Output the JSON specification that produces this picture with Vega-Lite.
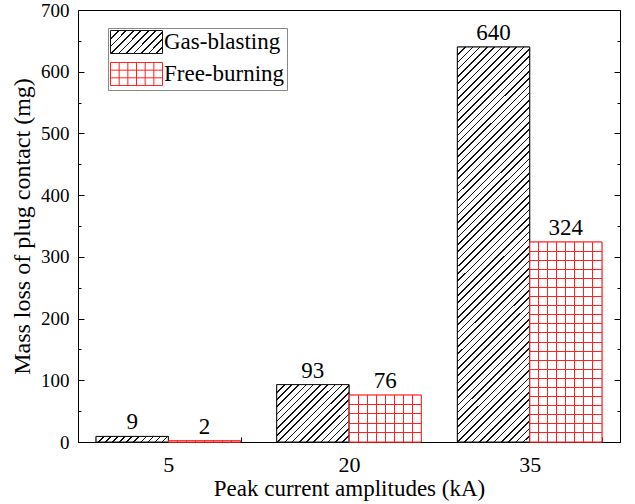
{
  "$schema": "https://vega.github.io/schema/vega-lite/v6.json",
  "width": 542,
  "height": 432,
  "padding": {"left": 10, "top": 1, "right": 12, "bottom": 4},
  "background": "#ffffff",
  "data": {"values": [
    {"amp": "5", "series": "Gas-blasting", "v": 9},
    {"amp": "5", "series": "Free-burning", "v": 2},
    {"amp": "20", "series": "Gas-blasting", "v": 93},
    {"amp": "20", "series": "Free-burning", "v": 76},
    {"amp": "35", "series": "Gas-blasting", "v": 640},
    {"amp": "35", "series": "Free-burning", "v": 324}
  ]},
  "config": {
    "view": {"stroke": "#000", "strokeWidth": 1},
    "font": "Liberation Serif",
    "axis": {
      "labelFont": "Liberation Serif", "labelFontSize": 19, "labelColor": "#000",
      "titleFont": "Liberation Serif", "titleFontSize": 23, "titleFontWeight": "normal", "titleColor": "#000",
      "domainColor": "#000", "tickColor": "#000", "grid": false
    },
    "legend": {
      "labelFont": "Liberation Serif", "labelFontSize": 23, "labelColor": "#000"
    }
  },
  "encoding": {
    "x": {"field": "amp", "type": "ordinal", "sort": ["5", "20", "35"],
      "scale": {"paddingInner": 0.2, "paddingOuter": 0.1}, "axis": null},
    "xOffset": {"field": "series", "type": "nominal", "sort": ["Gas-blasting", "Free-burning"]},
    "y": {"field": "v", "type": "quantitative", "scale": {"domain": [0, 700], "nice": false}, "axis": null}
  },
  "resolve": {"axis": {"y": "independent", "x": "independent"}},
  "layer": [
    {
      "mark": {"type": "bar", "strokeWidth": 1,
        "fill": {"expr": "(datum.series || datum.value) === 'Gas-blasting' ? {gradient: 'linear', x1: 0, y1: 0, x2: 1.2064, y2: 0.5313, stops: [{offset: 0, color: '#fff'}, {offset: 0.1, color: '#fff'}, {offset: 0.1, color: '#111'}, {offset: 0.1214, color: '#111'}, {offset: 0.1214, color: '#fff'}, {offset: 0.2, color: '#fff'}, {offset: 0.2, color: '#111'}, {offset: 0.2214, color: '#111'}, {offset: 0.2214, color: '#fff'}, {offset: 0.3, color: '#fff'}, {offset: 0.3, color: '#111'}, {offset: 0.3214, color: '#111'}, {offset: 0.3214, color: '#fff'}, {offset: 0.4, color: '#fff'}, {offset: 0.4, color: '#111'}, {offset: 0.4214, color: '#111'}, {offset: 0.4214, color: '#fff'}, {offset: 0.5, color: '#fff'}, {offset: 0.5, color: '#111'}, {offset: 0.5214, color: '#111'}, {offset: 0.5214, color: '#fff'}, {offset: 0.6, color: '#fff'}, {offset: 0.6, color: '#111'}, {offset: 0.6214, color: '#111'}, {offset: 0.6214, color: '#fff'}, {offset: 0.7, color: '#fff'}, {offset: 0.7, color: '#111'}, {offset: 0.7214, color: '#111'}, {offset: 0.7214, color: '#fff'}, {offset: 0.8, color: '#fff'}, {offset: 0.8, color: '#111'}, {offset: 0.8214, color: '#111'}, {offset: 0.8214, color: '#fff'}, {offset: 0.9, color: '#fff'}, {offset: 0.9, color: '#111'}, {offset: 0.9214, color: '#111'}, {offset: 0.9214, color: '#fff'}, {offset: 1, color: '#fff'}]} : '#fff'"}},
      "encoding": {
        "x": {"field": "amp", "type": "ordinal", "sort": ["5", "20", "35"],
          "scale": {"paddingInner": 0.2, "paddingOuter": 0.1},
          "axis": {"title": "Peak current amplitudes (kA)", "labelAngle": 0, "labelFontSize": 22, "tickBand": "extent", "tickSize": -5, "labelPadding": 17, "titlePadding": 2, "domainColor": "#000"}},
        "y": {"field": "v", "type": "quantitative", "scale": {"domain": [0, 700], "nice": false},
          "axis": {"orient": "left", "title": "Mass loss of plug contact (mg)", "titleFontSize": 24, "values": [0, 100, 200, 300, 400, 500, 600, 700], "tickSize": -6, "labelPadding": 15, "titlePadding": 6}},
        "stroke": {"field": "series", "type": "nominal",
          "scale": {"domain": ["Gas-blasting", "Free-burning"], "range": ["#111", "#f22"]},
          "legend": {"title": null, "orient": "none", "legendX": 30, "legendY": 18, "strokeColor": "#888", "padding": 2,
            "symbolType": {"expr": "datum.value === 'Free-burning' ? 'M-1,-1H3.522V1H-1ZM-0.246,-1V1M0.507,-1V1M1.261,-1V1M2.014,-1V1M2.768,-1V1M-1,-0.333H3.522M-1,0.333H3.522' : 'M-1,-1H3.522V1H-1Z'"},
            "symbolSize": 529, "symbolStrokeWidth": 1, "symbolOpacity": 1, "rowPadding": 4, "labelOffset": 30}}
      }
    },
    {
      "mark": {"type": "bar", "strokeWidth": 0},
      "encoding": {
        "y": {"field": "v", "type": "quantitative", "scale": {"domain": [0, 700], "nice": false},
          "axis": {"orient": "left", "title": null, "labels": false, "domain": false, "values": [50, 150, 250, 350, 450, 550, 650], "tickSize": -3}},
        "fill": {"condition": [
          {"test": "datum.v === 640", "value": {"gradient": "linear", "x1": 0, "y1": 0, "x2": 0.2089, "y2": 1.1445, "stops": [
            {"offset": 0, "color": "#fff"},
            {"offset": 0.0156, "color": "#fff"}, {"offset": 0.0156, "color": "#111"}, {"offset": 0.019, "color": "#111"}, {"offset": 0.019, "color": "#fff"},
            {"offset": 0.0313, "color": "#fff"}, {"offset": 0.0313, "color": "#111"}, {"offset": 0.0347, "color": "#111"}, {"offset": 0.0347, "color": "#fff"},
            {"offset": 0.0469, "color": "#fff"}, {"offset": 0.0469, "color": "#111"}, {"offset": 0.0503, "color": "#111"}, {"offset": 0.0503, "color": "#fff"},
            {"offset": 0.0625, "color": "#fff"}, {"offset": 0.0625, "color": "#111"}, {"offset": 0.0659, "color": "#111"}, {"offset": 0.0659, "color": "#fff"},
            {"offset": 0.0781, "color": "#fff"}, {"offset": 0.0781, "color": "#111"}, {"offset": 0.0815, "color": "#111"}, {"offset": 0.0815, "color": "#fff"},
            {"offset": 0.0938, "color": "#fff"}, {"offset": 0.0938, "color": "#111"}, {"offset": 0.0972, "color": "#111"}, {"offset": 0.0972, "color": "#fff"},
            {"offset": 0.1094, "color": "#fff"}, {"offset": 0.1094, "color": "#111"}, {"offset": 0.1128, "color": "#111"}, {"offset": 0.1128, "color": "#fff"},
            {"offset": 0.125, "color": "#fff"}, {"offset": 0.125, "color": "#111"}, {"offset": 0.1284, "color": "#111"}, {"offset": 0.1284, "color": "#fff"},
            {"offset": 0.1406, "color": "#fff"}, {"offset": 0.1406, "color": "#111"}, {"offset": 0.144, "color": "#111"}, {"offset": 0.144, "color": "#fff"},
            {"offset": 0.1563, "color": "#fff"}, {"offset": 0.1563, "color": "#111"}, {"offset": 0.1597, "color": "#111"}, {"offset": 0.1597, "color": "#fff"},
            {"offset": 0.1719, "color": "#fff"}, {"offset": 0.1719, "color": "#111"}, {"offset": 0.1753, "color": "#111"}, {"offset": 0.1753, "color": "#fff"},
            {"offset": 0.1875, "color": "#fff"}, {"offset": 0.1875, "color": "#111"}, {"offset": 0.1909, "color": "#111"}, {"offset": 0.1909, "color": "#fff"},
            {"offset": 0.2031, "color": "#fff"}, {"offset": 0.2031, "color": "#111"}, {"offset": 0.2065, "color": "#111"}, {"offset": 0.2065, "color": "#fff"},
            {"offset": 0.2188, "color": "#fff"}, {"offset": 0.2188, "color": "#111"}, {"offset": 0.2222, "color": "#111"}, {"offset": 0.2222, "color": "#fff"},
            {"offset": 0.2344, "color": "#fff"}, {"offset": 0.2344, "color": "#111"}, {"offset": 0.2378, "color": "#111"}, {"offset": 0.2378, "color": "#fff"},
            {"offset": 0.25, "color": "#fff"}, {"offset": 0.25, "color": "#111"}, {"offset": 0.2534, "color": "#111"}, {"offset": 0.2534, "color": "#fff"},
            {"offset": 0.2656, "color": "#fff"}, {"offset": 0.2656, "color": "#111"}, {"offset": 0.269, "color": "#111"}, {"offset": 0.269, "color": "#fff"},
            {"offset": 0.2813, "color": "#fff"}, {"offset": 0.2813, "color": "#111"}, {"offset": 0.2847, "color": "#111"}, {"offset": 0.2847, "color": "#fff"},
            {"offset": 0.2969, "color": "#fff"}, {"offset": 0.2969, "color": "#111"}, {"offset": 0.3003, "color": "#111"}, {"offset": 0.3003, "color": "#fff"},
            {"offset": 0.3125, "color": "#fff"}, {"offset": 0.3125, "color": "#111"}, {"offset": 0.3159, "color": "#111"}, {"offset": 0.3159, "color": "#fff"},
            {"offset": 0.3281, "color": "#fff"}, {"offset": 0.3281, "color": "#111"}, {"offset": 0.3315, "color": "#111"}, {"offset": 0.3315, "color": "#fff"},
            {"offset": 0.3438, "color": "#fff"}, {"offset": 0.3438, "color": "#111"}, {"offset": 0.3472, "color": "#111"}, {"offset": 0.3472, "color": "#fff"},
            {"offset": 0.3594, "color": "#fff"}, {"offset": 0.3594, "color": "#111"}, {"offset": 0.3628, "color": "#111"}, {"offset": 0.3628, "color": "#fff"},
            {"offset": 0.375, "color": "#fff"}, {"offset": 0.375, "color": "#111"}, {"offset": 0.3784, "color": "#111"}, {"offset": 0.3784, "color": "#fff"},
            {"offset": 0.3906, "color": "#fff"}, {"offset": 0.3906, "color": "#111"}, {"offset": 0.394, "color": "#111"}, {"offset": 0.394, "color": "#fff"},
            {"offset": 0.4063, "color": "#fff"}, {"offset": 0.4063, "color": "#111"}, {"offset": 0.4097, "color": "#111"}, {"offset": 0.4097, "color": "#fff"},
            {"offset": 0.4219, "color": "#fff"}, {"offset": 0.4219, "color": "#111"}, {"offset": 0.4253, "color": "#111"}, {"offset": 0.4253, "color": "#fff"},
            {"offset": 0.4375, "color": "#fff"}, {"offset": 0.4375, "color": "#111"}, {"offset": 0.4409, "color": "#111"}, {"offset": 0.4409, "color": "#fff"},
            {"offset": 0.4531, "color": "#fff"}, {"offset": 0.4531, "color": "#111"}, {"offset": 0.4565, "color": "#111"}, {"offset": 0.4565, "color": "#fff"},
            {"offset": 0.4688, "color": "#fff"}, {"offset": 0.4688, "color": "#111"}, {"offset": 0.4722, "color": "#111"}, {"offset": 0.4722, "color": "#fff"},
            {"offset": 0.4844, "color": "#fff"}, {"offset": 0.4844, "color": "#111"}, {"offset": 0.4878, "color": "#111"}, {"offset": 0.4878, "color": "#fff"},
            {"offset": 0.5, "color": "#fff"}, {"offset": 0.5, "color": "#111"}, {"offset": 0.5034, "color": "#111"}, {"offset": 0.5034, "color": "#fff"},
            {"offset": 0.5156, "color": "#fff"}, {"offset": 0.5156, "color": "#111"}, {"offset": 0.519, "color": "#111"}, {"offset": 0.519, "color": "#fff"},
            {"offset": 0.5313, "color": "#fff"}, {"offset": 0.5313, "color": "#111"}, {"offset": 0.5347, "color": "#111"}, {"offset": 0.5347, "color": "#fff"},
            {"offset": 0.5469, "color": "#fff"}, {"offset": 0.5469, "color": "#111"}, {"offset": 0.5503, "color": "#111"}, {"offset": 0.5503, "color": "#fff"},
            {"offset": 0.5625, "color": "#fff"}, {"offset": 0.5625, "color": "#111"}, {"offset": 0.5659, "color": "#111"}, {"offset": 0.5659, "color": "#fff"},
            {"offset": 0.5781, "color": "#fff"}, {"offset": 0.5781, "color": "#111"}, {"offset": 0.5815, "color": "#111"}, {"offset": 0.5815, "color": "#fff"},
            {"offset": 0.5938, "color": "#fff"}, {"offset": 0.5938, "color": "#111"}, {"offset": 0.5972, "color": "#111"}, {"offset": 0.5972, "color": "#fff"},
            {"offset": 0.6094, "color": "#fff"}, {"offset": 0.6094, "color": "#111"}, {"offset": 0.6128, "color": "#111"}, {"offset": 0.6128, "color": "#fff"},
            {"offset": 0.625, "color": "#fff"}, {"offset": 0.625, "color": "#111"}, {"offset": 0.6284, "color": "#111"}, {"offset": 0.6284, "color": "#fff"},
            {"offset": 0.6406, "color": "#fff"}, {"offset": 0.6406, "color": "#111"}, {"offset": 0.644, "color": "#111"}, {"offset": 0.644, "color": "#fff"},
            {"offset": 0.6563, "color": "#fff"}, {"offset": 0.6563, "color": "#111"}, {"offset": 0.6597, "color": "#111"}, {"offset": 0.6597, "color": "#fff"},
            {"offset": 0.6719, "color": "#fff"}, {"offset": 0.6719, "color": "#111"}, {"offset": 0.6753, "color": "#111"}, {"offset": 0.6753, "color": "#fff"},
            {"offset": 0.6875, "color": "#fff"}, {"offset": 0.6875, "color": "#111"}, {"offset": 0.6909, "color": "#111"}, {"offset": 0.6909, "color": "#fff"},
            {"offset": 0.7031, "color": "#fff"}, {"offset": 0.7031, "color": "#111"}, {"offset": 0.7065, "color": "#111"}, {"offset": 0.7065, "color": "#fff"},
            {"offset": 0.7188, "color": "#fff"}, {"offset": 0.7188, "color": "#111"}, {"offset": 0.7222, "color": "#111"}, {"offset": 0.7222, "color": "#fff"},
            {"offset": 0.7344, "color": "#fff"}, {"offset": 0.7344, "color": "#111"}, {"offset": 0.7378, "color": "#111"}, {"offset": 0.7378, "color": "#fff"},
            {"offset": 0.75, "color": "#fff"}, {"offset": 0.75, "color": "#111"}, {"offset": 0.7534, "color": "#111"}, {"offset": 0.7534, "color": "#fff"},
            {"offset": 0.7656, "color": "#fff"}, {"offset": 0.7656, "color": "#111"}, {"offset": 0.769, "color": "#111"}, {"offset": 0.769, "color": "#fff"},
            {"offset": 0.7813, "color": "#fff"}, {"offset": 0.7813, "color": "#111"}, {"offset": 0.7847, "color": "#111"}, {"offset": 0.7847, "color": "#fff"},
            {"offset": 0.7969, "color": "#fff"}, {"offset": 0.7969, "color": "#111"}, {"offset": 0.8003, "color": "#111"}, {"offset": 0.8003, "color": "#fff"},
            {"offset": 0.8125, "color": "#fff"}, {"offset": 0.8125, "color": "#111"}, {"offset": 0.8159, "color": "#111"}, {"offset": 0.8159, "color": "#fff"},
            {"offset": 0.8281, "color": "#fff"}, {"offset": 0.8281, "color": "#111"}, {"offset": 0.8315, "color": "#111"}, {"offset": 0.8315, "color": "#fff"},
            {"offset": 0.8438, "color": "#fff"}, {"offset": 0.8438, "color": "#111"}, {"offset": 0.8472, "color": "#111"}, {"offset": 0.8472, "color": "#fff"},
            {"offset": 0.8594, "color": "#fff"}, {"offset": 0.8594, "color": "#111"}, {"offset": 0.8628, "color": "#111"}, {"offset": 0.8628, "color": "#fff"},
            {"offset": 0.875, "color": "#fff"}, {"offset": 0.875, "color": "#111"}, {"offset": 0.8784, "color": "#111"}, {"offset": 0.8784, "color": "#fff"},
            {"offset": 0.8906, "color": "#fff"}, {"offset": 0.8906, "color": "#111"}, {"offset": 0.894, "color": "#111"}, {"offset": 0.894, "color": "#fff"},
            {"offset": 0.9063, "color": "#fff"}, {"offset": 0.9063, "color": "#111"}, {"offset": 0.9097, "color": "#111"}, {"offset": 0.9097, "color": "#fff"},
            {"offset": 0.9219, "color": "#fff"}, {"offset": 0.9219, "color": "#111"}, {"offset": 0.9253, "color": "#111"}, {"offset": 0.9253, "color": "#fff"},
            {"offset": 0.9375, "color": "#fff"}, {"offset": 0.9375, "color": "#111"}, {"offset": 0.9409, "color": "#111"}, {"offset": 0.9409, "color": "#fff"},
            {"offset": 0.9531, "color": "#fff"}, {"offset": 0.9531, "color": "#111"}, {"offset": 0.9565, "color": "#111"}, {"offset": 0.9565, "color": "#fff"},
            {"offset": 0.9688, "color": "#fff"}, {"offset": 0.9688, "color": "#111"}, {"offset": 0.9722, "color": "#111"}, {"offset": 0.9722, "color": "#fff"},
            {"offset": 0.9844, "color": "#fff"}, {"offset": 0.9844, "color": "#111"}, {"offset": 0.9878, "color": "#111"}, {"offset": 0.9878, "color": "#fff"},
            {"offset": 1, "color": "#fff"}
          ]}},
          {"test": "datum.v === 93", "value": {"gradient": "linear", "x1": 0, "y1": 0, "x2": 1.0993, "y2": 0.8751, "stops": [
            {"offset": 0, "color": "#fff"},
            {"offset": 0.0556, "color": "#fff"}, {"offset": 0.0556, "color": "#111"}, {"offset": 0.0679, "color": "#111"}, {"offset": 0.0679, "color": "#fff"},
            {"offset": 0.1111, "color": "#fff"}, {"offset": 0.1111, "color": "#111"}, {"offset": 0.1234, "color": "#111"}, {"offset": 0.1234, "color": "#fff"},
            {"offset": 0.1667, "color": "#fff"}, {"offset": 0.1667, "color": "#111"}, {"offset": 0.179, "color": "#111"}, {"offset": 0.179, "color": "#fff"},
            {"offset": 0.2222, "color": "#fff"}, {"offset": 0.2222, "color": "#111"}, {"offset": 0.2345, "color": "#111"}, {"offset": 0.2345, "color": "#fff"},
            {"offset": 0.2778, "color": "#fff"}, {"offset": 0.2778, "color": "#111"}, {"offset": 0.2901, "color": "#111"}, {"offset": 0.2901, "color": "#fff"},
            {"offset": 0.3333, "color": "#fff"}, {"offset": 0.3333, "color": "#111"}, {"offset": 0.3456, "color": "#111"}, {"offset": 0.3456, "color": "#fff"},
            {"offset": 0.3889, "color": "#fff"}, {"offset": 0.3889, "color": "#111"}, {"offset": 0.4012, "color": "#111"}, {"offset": 0.4012, "color": "#fff"},
            {"offset": 0.4444, "color": "#fff"}, {"offset": 0.4444, "color": "#111"}, {"offset": 0.4567, "color": "#111"}, {"offset": 0.4567, "color": "#fff"},
            {"offset": 0.5, "color": "#fff"}, {"offset": 0.5, "color": "#111"}, {"offset": 0.5123, "color": "#111"}, {"offset": 0.5123, "color": "#fff"},
            {"offset": 0.5556, "color": "#fff"}, {"offset": 0.5556, "color": "#111"}, {"offset": 0.5679, "color": "#111"}, {"offset": 0.5679, "color": "#fff"},
            {"offset": 0.6111, "color": "#fff"}, {"offset": 0.6111, "color": "#111"}, {"offset": 0.6234, "color": "#111"}, {"offset": 0.6234, "color": "#fff"},
            {"offset": 0.6667, "color": "#fff"}, {"offset": 0.6667, "color": "#111"}, {"offset": 0.679, "color": "#111"}, {"offset": 0.679, "color": "#fff"},
            {"offset": 0.7222, "color": "#fff"}, {"offset": 0.7222, "color": "#111"}, {"offset": 0.7345, "color": "#111"}, {"offset": 0.7345, "color": "#fff"},
            {"offset": 0.7778, "color": "#fff"}, {"offset": 0.7778, "color": "#111"}, {"offset": 0.7901, "color": "#111"}, {"offset": 0.7901, "color": "#fff"},
            {"offset": 0.8333, "color": "#fff"}, {"offset": 0.8333, "color": "#111"}, {"offset": 0.8456, "color": "#111"}, {"offset": 0.8456, "color": "#fff"},
            {"offset": 0.8889, "color": "#fff"}, {"offset": 0.8889, "color": "#111"}, {"offset": 0.9012, "color": "#111"}, {"offset": 0.9012, "color": "#fff"},
            {"offset": 0.9444, "color": "#fff"}, {"offset": 0.9444, "color": "#111"}, {"offset": 0.9567, "color": "#111"}, {"offset": 0.9567, "color": "#fff"},
            {"offset": 1, "color": "#fff"}
          ]}},
          {"test": "datum.v === 9", "value": {"gradient": "linear", "x1": 0, "y1": 0, "x2": 1.0707, "y2": 0.0825, "stops": [
            {"offset": 0, "color": "#fff"},
            {"offset": 0.0909, "color": "#fff"}, {"offset": 0.0909, "color": "#111"}, {"offset": 0.1115, "color": "#111"}, {"offset": 0.1115, "color": "#fff"},
            {"offset": 0.1818, "color": "#fff"}, {"offset": 0.1818, "color": "#111"}, {"offset": 0.2024, "color": "#111"}, {"offset": 0.2024, "color": "#fff"},
            {"offset": 0.2727, "color": "#fff"}, {"offset": 0.2727, "color": "#111"}, {"offset": 0.2933, "color": "#111"}, {"offset": 0.2933, "color": "#fff"},
            {"offset": 0.3636, "color": "#fff"}, {"offset": 0.3636, "color": "#111"}, {"offset": 0.3842, "color": "#111"}, {"offset": 0.3842, "color": "#fff"},
            {"offset": 0.4545, "color": "#fff"}, {"offset": 0.4545, "color": "#111"}, {"offset": 0.4751, "color": "#111"}, {"offset": 0.4751, "color": "#fff"},
            {"offset": 0.5455, "color": "#fff"}, {"offset": 0.5455, "color": "#111"}, {"offset": 0.5661, "color": "#111"}, {"offset": 0.5661, "color": "#fff"},
            {"offset": 0.6364, "color": "#fff"}, {"offset": 0.6364, "color": "#111"}, {"offset": 0.657, "color": "#111"}, {"offset": 0.657, "color": "#fff"},
            {"offset": 0.7273, "color": "#fff"}, {"offset": 0.7273, "color": "#111"}, {"offset": 0.7479, "color": "#111"}, {"offset": 0.7479, "color": "#fff"},
            {"offset": 0.8182, "color": "#fff"}, {"offset": 0.8182, "color": "#111"}, {"offset": 0.8388, "color": "#111"}, {"offset": 0.8388, "color": "#fff"},
            {"offset": 0.9091, "color": "#fff"}, {"offset": 0.9091, "color": "#111"}, {"offset": 0.9297, "color": "#111"}, {"offset": 0.9297, "color": "#fff"},
            {"offset": 1, "color": "#fff"}
          ]}},
          {"test": "datum.series === 'Free-burning'", "value": {"gradient": "linear", "x1": 0, "y1": 0, "x2": 1, "y2": 0, "stops": [
            {"offset": 0, "color": "#fff"},
            {"offset": 0.1181, "color": "#fff"}, {"offset": 0.1181, "color": "#f22"}, {"offset": 0.1319, "color": "#f22"}, {"offset": 0.1319, "color": "#fff"},
            {"offset": 0.2431, "color": "#fff"}, {"offset": 0.2431, "color": "#f22"}, {"offset": 0.2569, "color": "#f22"}, {"offset": 0.2569, "color": "#fff"},
            {"offset": 0.3681, "color": "#fff"}, {"offset": 0.3681, "color": "#f22"}, {"offset": 0.3819, "color": "#f22"}, {"offset": 0.3819, "color": "#fff"},
            {"offset": 0.4931, "color": "#fff"}, {"offset": 0.4931, "color": "#f22"}, {"offset": 0.5069, "color": "#f22"}, {"offset": 0.5069, "color": "#fff"},
            {"offset": 0.6181, "color": "#fff"}, {"offset": 0.6181, "color": "#f22"}, {"offset": 0.6319, "color": "#f22"}, {"offset": 0.6319, "color": "#fff"},
            {"offset": 0.7431, "color": "#fff"}, {"offset": 0.7431, "color": "#f22"}, {"offset": 0.7569, "color": "#f22"}, {"offset": 0.7569, "color": "#fff"},
            {"offset": 0.8681, "color": "#fff"}, {"offset": 0.8681, "color": "#f22"}, {"offset": 0.8819, "color": "#f22"}, {"offset": 0.8819, "color": "#fff"},
            {"offset": 1, "color": "#fff"}
          ]}}
        ], "value": "#fff"}
      }
    },
    {
      "mark": {"type": "bar", "strokeWidth": 0},
      "encoding": {
        "y": {"field": "v", "type": "quantitative", "scale": {"domain": [0, 700], "nice": false},
          "axis": {"orient": "right", "title": null, "labels": false, "domain": false, "values": [0, 100, 200, 300, 400, 500, 600, 700], "tickSize": -6}},
        "fill": {"condition": [
          {"test": "datum.v === 324", "value": {"gradient": "linear", "x1": 0, "y1": 0, "x2": 0, "y2": 1, "stops": [
            {"offset": 0, "color": "transparent"},
            {"offset": 0.043, "color": "transparent"}, {"offset": 0.043, "color": "#f22"}, {"offset": 0.048, "color": "#f22"}, {"offset": 0.048, "color": "transparent"},
            {"offset": 0.0884, "color": "transparent"}, {"offset": 0.0884, "color": "#f22"}, {"offset": 0.0934, "color": "#f22"}, {"offset": 0.0934, "color": "transparent"},
            {"offset": 0.1339, "color": "transparent"}, {"offset": 0.1339, "color": "#f22"}, {"offset": 0.1389, "color": "#f22"}, {"offset": 0.1389, "color": "transparent"},
            {"offset": 0.1793, "color": "transparent"}, {"offset": 0.1793, "color": "#f22"}, {"offset": 0.1843, "color": "#f22"}, {"offset": 0.1843, "color": "transparent"},
            {"offset": 0.2248, "color": "transparent"}, {"offset": 0.2248, "color": "#f22"}, {"offset": 0.2298, "color": "#f22"}, {"offset": 0.2298, "color": "transparent"},
            {"offset": 0.2702, "color": "transparent"}, {"offset": 0.2702, "color": "#f22"}, {"offset": 0.2752, "color": "#f22"}, {"offset": 0.2752, "color": "transparent"},
            {"offset": 0.3157, "color": "transparent"}, {"offset": 0.3157, "color": "#f22"}, {"offset": 0.3207, "color": "#f22"}, {"offset": 0.3207, "color": "transparent"},
            {"offset": 0.3611, "color": "transparent"}, {"offset": 0.3611, "color": "#f22"}, {"offset": 0.3661, "color": "#f22"}, {"offset": 0.3661, "color": "transparent"},
            {"offset": 0.4066, "color": "transparent"}, {"offset": 0.4066, "color": "#f22"}, {"offset": 0.4116, "color": "#f22"}, {"offset": 0.4116, "color": "transparent"},
            {"offset": 0.452, "color": "transparent"}, {"offset": 0.452, "color": "#f22"}, {"offset": 0.457, "color": "#f22"}, {"offset": 0.457, "color": "transparent"},
            {"offset": 0.4975, "color": "transparent"}, {"offset": 0.4975, "color": "#f22"}, {"offset": 0.5025, "color": "#f22"}, {"offset": 0.5025, "color": "transparent"},
            {"offset": 0.543, "color": "transparent"}, {"offset": 0.543, "color": "#f22"}, {"offset": 0.548, "color": "#f22"}, {"offset": 0.548, "color": "transparent"},
            {"offset": 0.5884, "color": "transparent"}, {"offset": 0.5884, "color": "#f22"}, {"offset": 0.5934, "color": "#f22"}, {"offset": 0.5934, "color": "transparent"},
            {"offset": 0.6339, "color": "transparent"}, {"offset": 0.6339, "color": "#f22"}, {"offset": 0.6389, "color": "#f22"}, {"offset": 0.6389, "color": "transparent"},
            {"offset": 0.6793, "color": "transparent"}, {"offset": 0.6793, "color": "#f22"}, {"offset": 0.6843, "color": "#f22"}, {"offset": 0.6843, "color": "transparent"},
            {"offset": 0.7248, "color": "transparent"}, {"offset": 0.7248, "color": "#f22"}, {"offset": 0.7298, "color": "#f22"}, {"offset": 0.7298, "color": "transparent"},
            {"offset": 0.7702, "color": "transparent"}, {"offset": 0.7702, "color": "#f22"}, {"offset": 0.7752, "color": "#f22"}, {"offset": 0.7752, "color": "transparent"},
            {"offset": 0.8157, "color": "transparent"}, {"offset": 0.8157, "color": "#f22"}, {"offset": 0.8207, "color": "#f22"}, {"offset": 0.8207, "color": "transparent"},
            {"offset": 0.8611, "color": "transparent"}, {"offset": 0.8611, "color": "#f22"}, {"offset": 0.8661, "color": "#f22"}, {"offset": 0.8661, "color": "transparent"},
            {"offset": 0.9066, "color": "transparent"}, {"offset": 0.9066, "color": "#f22"}, {"offset": 0.9116, "color": "#f22"}, {"offset": 0.9116, "color": "transparent"},
            {"offset": 0.952, "color": "transparent"}, {"offset": 0.952, "color": "#f22"}, {"offset": 0.957, "color": "#f22"}, {"offset": 0.957, "color": "transparent"},
            {"offset": 1, "color": "transparent"}
          ]}},
          {"test": "datum.v === 76", "value": {"gradient": "linear", "x1": 0, "y1": 0, "x2": 0, "y2": 1, "stops": [
            {"offset": 0, "color": "transparent"},
            {"offset": 0.1894, "color": "transparent"}, {"offset": 0.1894, "color": "#f22"}, {"offset": 0.2106, "color": "#f22"}, {"offset": 0.2106, "color": "transparent"},
            {"offset": 0.3894, "color": "transparent"}, {"offset": 0.3894, "color": "#f22"}, {"offset": 0.4106, "color": "#f22"}, {"offset": 0.4106, "color": "transparent"},
            {"offset": 0.5894, "color": "transparent"}, {"offset": 0.5894, "color": "#f22"}, {"offset": 0.6106, "color": "#f22"}, {"offset": 0.6106, "color": "transparent"},
            {"offset": 0.7894, "color": "transparent"}, {"offset": 0.7894, "color": "#f22"}, {"offset": 0.8106, "color": "#f22"}, {"offset": 0.8106, "color": "transparent"},
            {"offset": 1, "color": "transparent"}
          ]}}
        ], "value": "transparent"}
      }
    },
    {
      "mark": {"type": "bar", "fill": "transparent", "strokeWidth": 1},
      "encoding": {
        "y": {"field": "v", "type": "quantitative", "scale": {"domain": [0, 700], "nice": false},
          "axis": {"orient": "right", "title": null, "labels": false, "domain": false, "values": [50, 150, 250, 350, 450, 550, 650], "tickSize": -3}},
        "stroke": {"condition": {"test": "datum.series === 'Gas-blasting'", "value": "#111"}, "value": "#f22"}
      }
    },
    {
      "mark": {"type": "text", "baseline": "bottom", "dy": -2, "font": "Liberation Serif", "fontSize": 23, "color": "#000"},
      "encoding": {
        "text": {"field": "v", "type": "quantitative"}
      }
    }
  ]
}
